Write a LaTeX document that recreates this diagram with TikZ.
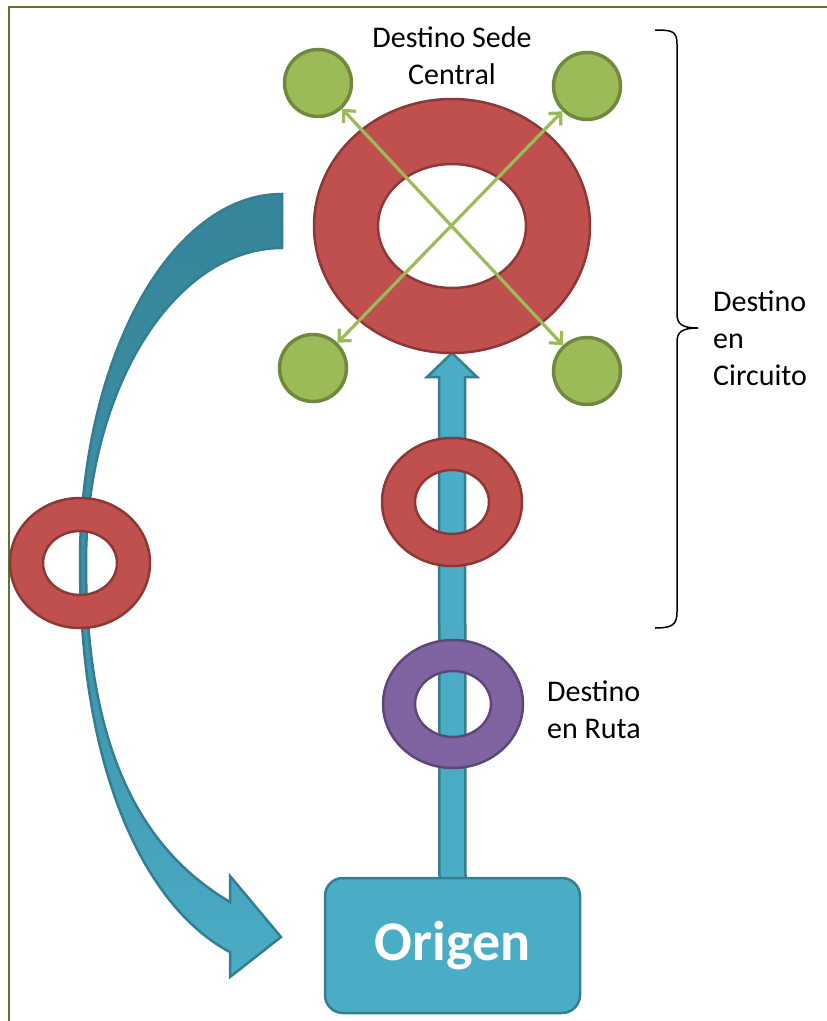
\documentclass[tikz,border=0pt]{standalone}
\usepackage{fontspec}
\setmainfont{Carlito}
\usepackage{tikz}
\usetikzlibrary{arrows.meta, calc, backgrounds}
\usepackage{xcolor}
\definecolor{RingRed}{HTML}{C0504D}
\definecolor{RingRedLine}{HTML}{8C3836}
\definecolor{RingPurple}{HTML}{8064A2}
\definecolor{RingPurpleLine}{HTML}{5C4776}
\definecolor{LeafGreen}{HTML}{9BBB59}
\definecolor{LeafGreenLine}{HTML}{71893F}
\definecolor{FlowAqua}{HTML}{4BACC6}
\definecolor{FlowAquaDark}{HTML}{36859A}
\definecolor{FlowAquaLine}{HTML}{357D91}
\definecolor{FrameOlive}{HTML}{5E7431}
\tikzset{
    % Ring styles
    redring/.style={
        fill=RingRed,
        draw=RingRedLine,
        line width=2.5pt,
        even odd rule
    },
    purplering/.style={
        fill=RingPurple,
        draw=RingPurpleLine,
        line width=2.5pt,
        even odd rule
    },
    % Node styles
    leafnode/.style={
        circle,
        draw=LeafGreenLine,
        fill=LeafGreen,
        line width=3.5pt,
        minimum size=67pt,
        inner sep=0pt
    },
    originbox/.style={
        rectangle,
        rounded corners=18pt,
        draw=FlowAquaLine,
        fill=FlowAqua,
        line width=2.5pt,
        minimum width=255pt,
        minimum height=135pt,
        text=white,
        font=\fontsize{56}{60}\selectfont\bfseries
    },
    labeltext/.style={
        inner sep=0pt,
        font=\fontsize{30}{37}\selectfont
    },
    % Arrow styles
    spoke/.style={
        {Straight Barb[length=9pt,width=17pt]}-{Straight Barb[length=9pt,width=17pt]},
        LeafGreen,
        line width=3.2pt
    },
    blockarrow/.style={
        fill=FlowAqua,
        draw=FlowAquaLine,
        line width=2.5pt
    },
    bentarrow/.style={
        top color=FlowAquaDark,
        bottom color=FlowAqua,
        middle color=FlowAquaDark!70!FlowAqua,
        draw=FlowAquaLine,
        line width=2.5pt
    },
    bracket/.style={
        black,
        line width=1.5pt
    }
}

\begin{document}
\begin{tikzpicture}[x=1pt, y=-1pt]
    \useasboundingbox (0,0) rectangle (827,1021);

    % Frame
    \draw[FrameOlive, line width=2pt] (9,1030) -- (9,7) -- (840,7);

    % Ring centres
    \coordinate (hq) at (452,226);
    \coordinate (hqbase) at (452,353);
    \coordinate (stop) at (452,502);
    \coordinate (route) at (453,704);
    \coordinate (side) at (80,563);

    % Return arrow, behind the side ring
    \path[bentarrow] (282,194) .. controls (170,194) and (80,359) .. (80,563)
        .. controls (80,780) and (150,910) .. (230,952)
        -- (230,977) -- (281,937) -- (230,876) -- (230,902)
        .. controls (145,852) and (86,755) .. (86,563)
        .. controls (86,389) and (174,248) .. (282,248) -- cycle;

    % Rings
    \filldraw[redring] (side) ellipse [x radius=70, y radius=65] (side) ellipse [x radius=37, y radius=32];
    \filldraw[redring] (stop) ellipse [x radius=70, y radius=64] (stop) ellipse [x radius=37, y radius=32];
    \filldraw[purplering] (route) ellipse [x radius=70, y radius=64] (route) ellipse [x radius=38, y radius=33];
    \filldraw[redring] (hq) ellipse [x radius=138, y radius=127] (hq) ellipse [x radius=74, y radius=62];

    % Origin
    \node[originbox] (origen) at (452.5,945.5) {Origen};

    % Block arrow from origin up to the main ring
    \begin{scope}[on background layer]
        \filldraw[blockarrow] ($(origen.north)+(-13,2)$) -- ($(hqbase)+(-13,24)$)
            -- ($(hqbase)+(-25,24)$) -- (hqbase) -- ($(hqbase)+(25,24)$)
            -- ($(hqbase)+(13,24)$) -- ($(origen.north)+(13,2)$) -- cycle;
    \end{scope}

    % Green destinations
    \node[leafnode] (nw) at (318,83) {};
    \node[leafnode] (ne) at (587,86) {};
    \node[leafnode] (sw) at (313,368) {};
    \node[leafnode] (se) at (587,371) {};
    \draw[spoke] (nw) -- (se);
    \draw[spoke] (ne) -- (sw);

    % Labels
    \node[labeltext, align=center, anchor=north] (sede) at (452,26) {Destino Sede\\Central};
    \node[labeltext, align=left, anchor=north west] (circuito) at (713,291) {Destino\\en\\Circuito};
    \node[labeltext, align=left, anchor=north west] (ruta) at (547,681) {Destino\\en Ruta};

    % Brace
    \coordinate (bracetop) at (655,30);
    \coordinate (bracetip) at (698,328);
    \coordinate (bracebot) at (655,628);
    \draw[bracket] (bracetop) .. controls (672,30) and (677,31) .. (677,44)
        -- (677,314) .. controls (677,324) and (682,328) .. (bracetip)
        .. controls (682,328) and (677,332) .. (677,342)
        -- (677,612) .. controls (677,625) and (672,628) .. (bracebot);
\end{tikzpicture}
\end{document}
